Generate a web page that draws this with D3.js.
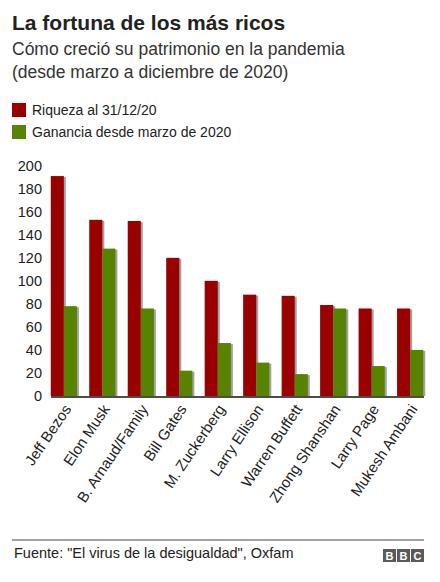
<!DOCTYPE html>
<html><head><meta charset="utf-8">
<script src="https://cdn.jsdelivr.net/npm/d3@7"></script>
<style>body{margin:0;background:#fff}text{font-family:"Liberation Sans",Arial,sans-serif}</style>
</head><body><div id="chart"></div>
<script>
var names = ["Jeff Bezos","Elon Musk","B. Arnaud/Family","Bill Gates","M. Zuckerberg","Larry Ellison","Warren Buffett","Zhong Shanshan","Larry Page","Mukesh Ambani"];
var wealth = [191,153,152,120,100,88,87,79,76,76];
var gain = [78,128,76,22,46,29,19,76,26,40];
var yTicks = [0,20,40,60,80,100,120,140,160,180,200];
var seriesNames = ["Riqueza al 31/12/20","Ganancia desde marzo de 2020"];
var colors = ["#990000","#588300"];

var svg = d3.select("#chart").append("svg").attr("width",440).attr("height",582);

svg.append("text").attr("x",12).attr("y",30).attr("font-size",21).attr("font-weight","bold").attr("fill","#222").text("La fortuna de los más ricos");
svg.append("text").attr("x",12).attr("y",55).attr("font-size",17.5).attr("fill","#333").text("Cómo creció su patrimonio en la pandemia");
svg.append("text").attr("x",12).attr("y",78).attr("font-size",17.5).attr("fill","#333").text("(desde marzo a diciembre de 2020)");

var leg = svg.selectAll(".leg").data(seriesNames).enter().append("g")
  .attr("transform",function(d,i){return "translate(12,"+(103+i*22)+")";});
leg.append("rect").attr("width",14).attr("height",14).attr("fill",function(d,i){return colors[i];});
leg.append("text").attr("x",20).attr("y",12).attr("font-size",14).attr("fill","#222").text(function(d){return d;});

var pLeft = 50, pRight = 424, pTop = 165.7, pBottom = 396;
var x = d3.scaleBand().domain(names).range([pLeft,pRight]).paddingInner(0.32).paddingOuter(0.02);
var xs = d3.scaleBand().domain([0,1]).range([0,x.bandwidth()]);
var y = d3.scaleLinear().domain([0,200]).range([pBottom,pTop]);

var data = names.map(function(n,i){return {name:n, v:[wealth[i],gain[i]]};});
var g = svg.selectAll(".grp").data(data).enter().append("g")
  .attr("transform",function(d){return "translate("+x(d.name)+",0)";});
// shadows
g.selectAll(".sh").data(function(d){return d.v;}).enter().append("rect")
  .attr("x",function(d,i){return xs(i)+2;}).attr("y",function(d){return y(d)+1;})
  .attr("width",xs.bandwidth()).attr("height",function(d){return pBottom-y(d)-1;})
  .attr("fill","#555").attr("opacity",0.55);
g.selectAll(".bar").data(function(d){return d.v;}).enter().append("rect")
  .attr("x",function(d,i){return xs(i);}).attr("y",function(d){return y(d);})
  .attr("width",xs.bandwidth()).attr("height",function(d){return pBottom-y(d);})
  .attr("fill",function(d,i){return colors[i];});

var ya = svg.append("g").attr("transform","translate("+pLeft+",0)")
  .call(d3.axisLeft(y).tickValues(yTicks).tickSize(0).tickPadding(8));
ya.select(".domain").remove();
ya.selectAll("text").attr("font-size",14.5).attr("fill","#222").style("font-family","Liberation Sans, Arial, sans-serif");

svg.append("line").attr("x1",pLeft+1).attr("x2",pRight).attr("y1",pBottom+1).attr("y2",pBottom+1).attr("stroke","#111").attr("stroke-width",1.5);

svg.selectAll(".xl").data(names).enter().append("text")
  .attr("transform",function(d){return "translate("+(x(d)+x.bandwidth()/2+8)+","+(pBottom+13)+") rotate(-56)";})
  .attr("text-anchor","end").attr("font-size",15).attr("fill","#222").text(function(d){return d;});

svg.append("line").attr("x1",12).attr("x2",424).attr("y1",540).attr("y2",540).attr("stroke","#444").attr("stroke-width",1);
svg.append("text").attr("x",14).attr("y",558).attr("font-size",14.5).attr("fill","#222").text("Fuente: \"El virus de la desigualdad\", Oxfam");
["B","B","C"].forEach(function(c,i){
  svg.append("rect").attr("x",383+i*14).attr("y",549).attr("width",13).attr("height",13).attr("fill","#5a5a5a");
  svg.append("text").attr("x",389.5+i*14).attr("y",560).attr("text-anchor","middle").attr("font-size",11).attr("font-weight","bold").attr("fill","#fff").text(c);
});
</script></body></html>
